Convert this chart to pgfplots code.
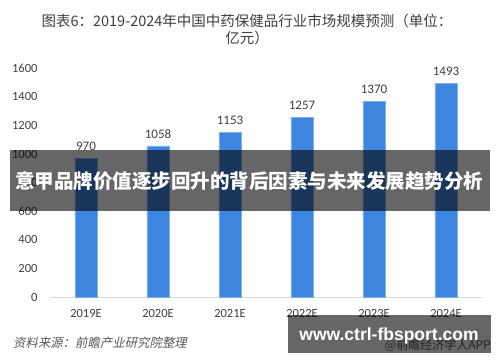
\documentclass[border=0pt]{standalone}
\usepackage{fontspec}
\usepackage{pgfplots}
\pgfplotsset{compat=1.18}
\setmainfont{Carlito}
\newfontfamily\cjk{Noto Sans CJK SC}
\newfontfamily\cjkit{Noto Sans CJK SC}[FakeSlant=0.2]
\newfontfamily\wmfont{Liberation Sans}
\definecolor{barblue}{HTML}{3F86E0}
\definecolor{baredge}{HTML}{7FB0EE}
\definecolor{txtgray}{HTML}{404040}
\definecolor{srcgray}{HTML}{595959}
\definecolor{basegray}{HTML}{D9D9D9}
\begin{document}
\begin{tikzpicture}
\path[fill=white] (0pt,0pt) rectangle (500pt,362pt);
\begin{axis}[
  at={(50pt,65pt)}, anchor=south west,
  scale only axis, width=432pt, height=228.7pt,
  ybar, bar width=22pt,
  xmin=-0.5, xmax=5.5, ymin=0, ymax=1600,
  enlargelimits=false,
  axis lines*=left,
  y axis line style={draw=none},
  x axis line style={-, draw=basegray, line width=0.8pt},
  major tick length=0pt,
  xtick=data,
  xticklabels={2019E,2020E,2021E,2022E,2023E,2024E},
  ytick={0,200,...,1600},
  /pgf/number format/assume math mode=true,
  /pgf/number format/1000 sep={},
  tick label style={font=\fontsize{12.5}{14}\selectfont, text=txtgray},
  xticklabel style={yshift=-9pt},
  yticklabel style={xshift=-9pt},
  nodes near coords,
  every node near coord/.append style={font=\fontsize{13}{15}\selectfont, text=txtgray, yshift=4pt},
]
\addplot[fill=barblue, draw=baredge, line width=0.4pt] coordinates {(0,970) (1,1058) (2,1153) (3,1257) (4,1370) (5,1493)};
\end{axis}
\node[text=txtgray, font=\cjk\fontsize{14.5}{16}\selectfont] at (247pt,341pt) {图表6：2019-2024年中国中药保健品行业市场规模预测（单位：};
\node[text=txtgray, font=\cjk\fontsize{14.5}{16}\selectfont] at (247pt,324.5pt) {亿元）};
\fill[black, opacity=0.6] (10pt,151pt) rectangle (490pt,212pt);
\node[text=white, font=\cjk\bfseries\fontsize{19.5}{22}\selectfont] at (249pt,180.5pt) {意甲品牌价值逐步回升的背后因素与未来发展趋势分析};
\node[anchor=west, text=srcgray, font=\cjkit\fontsize{12.4}{14}\selectfont, inner sep=0pt] at (13pt,19pt) {资料来源：前瞻产业研究院整理};
\node[anchor=east, text=srcgray, font=\cjk\fontsize{12}{14}\selectfont, inner sep=0pt] at (491pt,17pt) {@前瞻经济学人APP};
\fill[black, opacity=0.6] (288pt,9pt) rectangle (491pt,47pt);
\node[text=white, font=\wmfont\bfseries\fontsize{17.5}{20}\selectfont] at (389pt,26pt) {www.ctrl-fbsport.com};
\end{tikzpicture}
\end{document}
